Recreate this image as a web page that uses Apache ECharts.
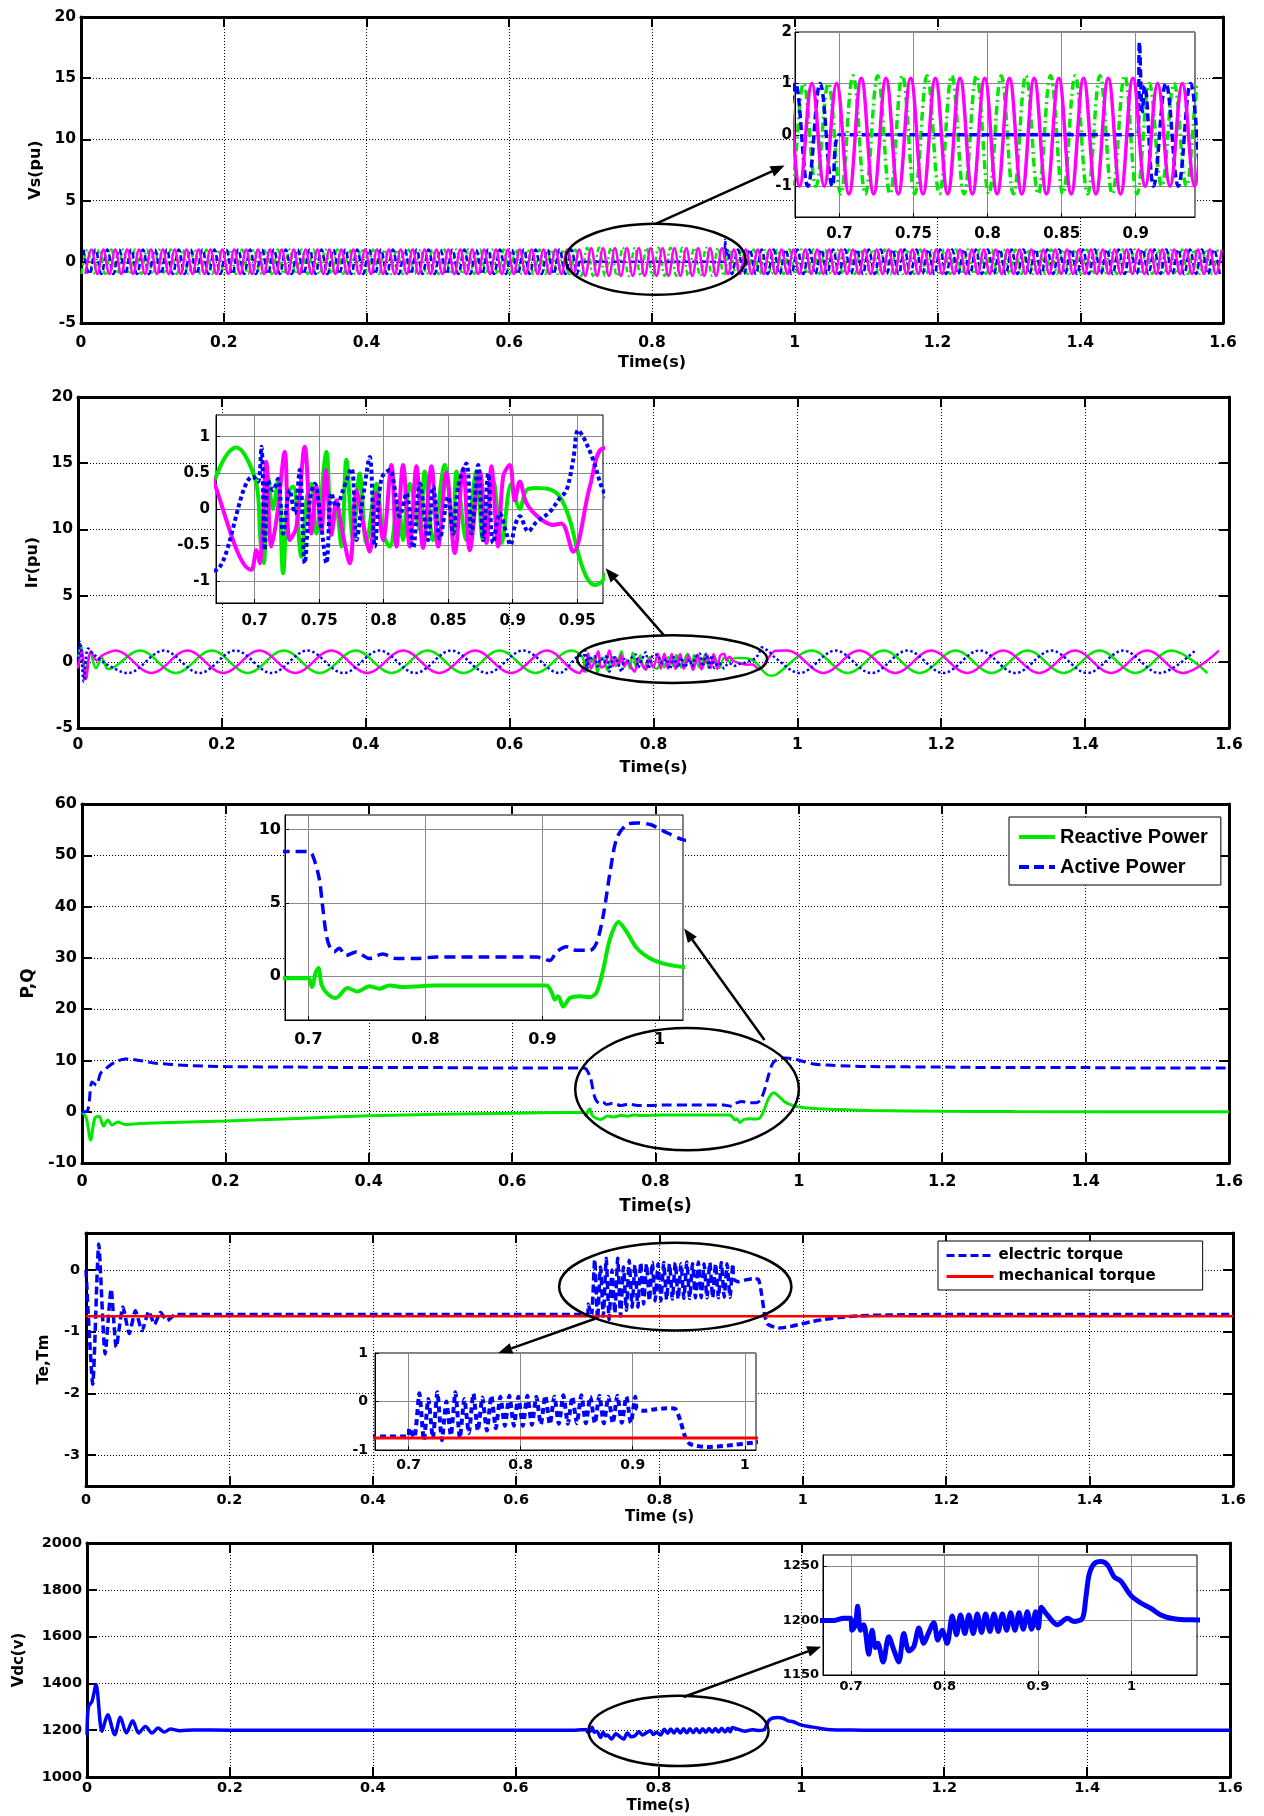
<!DOCTYPE html>
<html>
<head>
<meta charset="utf-8">
<script src="https://cdn.jsdelivr.net/npm/echarts@6.0.0/dist/echarts.min.js"></script>
<style>html,body{margin:0;padding:0;background:#fff;}#chart{width:1264px;height:1816px;}</style>
</head>
<body>
<div id="chart"></div>
<script>
// ======================= DATA =======================
// ---- tick labels of the zoom insets ----
const vsInsetXTicks = [0.7, 0.75, 0.8, 0.85, 0.9];
const vsInsetYTicks = [-1, 0, 1, 2];
const irInsetXTicks = [0.7, 0.75, 0.8, 0.85, 0.9, 0.95];
const irInsetYTicks = [-1, -0.5, 0, 0.5, 1];
const pqInsetXTicks = [0.7, 0.8, 0.9, 1];
const pqInsetYTicks = [0, 5, 10];
const teMainYTicks = [-3, -2, -1, 0];
const teInsetXTicks = [0.7, 0.8, 0.9, 1];
const teInsetYTicks = [-1, 0, 1];
const vdcInsetXTicks = [0.7, 0.8, 0.9, 1];
const vdcInsetYTicks = [1150, 1200, 1250];

// ---- Stator voltage Vs (pu): 3 phases, period and first peak ----
const vsPeriod = 0.01667;
const vsGreenFirstPeak = 0.0090;
const vsMagentaFirstPeak = 0.0146;
const vsBluePeakRef = 0.0035;
// amplitude segments: [tStart, tEnd, peak value, trough value]
const vsGreenSegs = [[0, 0.700, 1.0, -1.0], [0.700, 0.905, 1.15, -1.15], [0.905, 1.6, 1.0, -1.0]];
const vsMagentaSegs = [[0, 0.700, 1.0, -1.0], [0.700, 0.905, 1.1, -1.15], [0.905, 1.6, 1.0, -1.0]];
const vsBlueSegsPre = [[0, 0.699, 1.0, -1.0]];
const vsBlueFault = [[0.700, 0], [0.9015, 0], [0.9025, 1.8], [0.9045, 0.45], [0.906, 0.95]];
const vsBlueSegsPost = [[0.907, 1.6, 1.0, -1.0]];

// ---- Rotor current Ir (pu) ----
const irPeriod = 0.1;
const irPreFirstPeak = { green: 0.086, magenta: 0.052, blue: 0.019 };
const irPostFirstPeak = { green: 0.020, magenta: 0.086, blue: 0.053 };
const irPreSegs = [[0.05, 0.700, 0.85, -0.85]];
const irPostSegs = [[0.975, 1.6, 0.85, -0.85]];
const irGreenStart = [[0, 0.3], [0.004, 1.2], [0.010, -1.0], [0.017, 0.7], [0.025, -0.5], [0.033, 0.3], [0.042, -0.55]];
const irMagentaStart = [[0, -0.5], [0.005, 0.9], [0.011, -1.3], [0.018, 0.8], [0.026, 0.1], [0.034, 0.5], [0.042, 0.7]];
const irBlueStart = [[0, 0.2], [0.003, 1.5], [0.008, -1.5], [0.014, 1.0], [0.021, 0.6], [0.030, 0.2], [0.040, -0.2]];
const irGreenFault = [[0.7013,0.35],[0.7044,-0.43],[0.707,-0.75],[0.7103,0.45],[0.7142,0.0],[0.7181,0.4],[0.722,-0.89],[0.7259,0.22],[0.7297,0.31],[0.7362,-0.66],[0.7401,0.12],[0.7439,0.35],[0.7478,-0.34],[0.7556,0.79],[0.7595,-0.34],[0.7633,0.0],[0.7672,-0.52],[0.7711,0.68],[0.7763,-0.43],[0.7814,0.49],[0.7866,-0.47],[0.7944,0.35],[0.7995,-0.34],[0.8047,-0.52],[0.8112,0.12],[0.815,-0.43],[0.8202,0.35],[0.828,-0.29],[0.8318,0.52],[0.8383,-0.43],[0.8473,0.61],[0.8538,-0.38],[0.8564,0.52],[0.8641,-0.43],[0.8719,0.52],[0.8771,-0.43],[0.8848,0.40],[0.8913,-0.47],[0.899,0.35],[0.9055,0.0],[0.9107,0.26],[0.9184,0.29],[0.9288,0.27],[0.9365,0.17],[0.9443,-0.15],[0.9507,-0.61],[0.9572,-0.94],[0.9637,-1.05],[0.9701,-0.98]];
const irMagentaFault = [[0.6974,-0.84],[0.7013,-0.57],[0.7039,-0.75],[0.709,0.65],[0.7129,-0.52],[0.7173,-0.1],[0.7233,0.79],[0.7271,-0.43],[0.7323,-0.25],[0.7388,0.86],[0.7439,-0.34],[0.7478,0.31],[0.7517,-0.31],[0.7551,0.54],[0.7595,-0.36],[0.7633,0.12],[0.7672,-0.24],[0.7737,-0.75],[0.7788,0.26],[0.784,-0.2],[0.7892,-0.59],[0.7944,0.22],[0.7995,-0.43],[0.806,0.61],[0.8099,-0.52],[0.815,0.61],[0.8202,-0.52],[0.8254,0.59],[0.8305,-0.54],[0.837,0.59],[0.8422,-0.52],[0.8486,0.5],[0.8551,-0.61],[0.8616,0.56],[0.8667,-0.57],[0.8745,0.52],[0.8797,-0.47],[0.8835,0.59],[0.8887,-0.52],[0.8926,0.45],[0.8978,0.61],[0.9016,0.12],[0.9055,0.38],[0.9107,0.08],[0.921,-0.13],[0.9314,-0.22],[0.9378,-0.2],[0.9469,-0.59],[0.9598,0.31],[0.9701,0.84]];
const irBlueFault = [[0.6987,0.45],[0.7026,0.38],[0.7052,0.86],[0.7078,-0.57],[0.7103,0.4],[0.7142,0.26],[0.7181,0.42],[0.722,-0.34],[0.7271,0.26],[0.731,-0.06],[0.7349,0.54],[0.7388,-0.75],[0.7427,0.12],[0.7465,0.35],[0.7517,-0.25],[0.7556,-0.75],[0.7595,0.22],[0.7633,0.03],[0.7685,0.26],[0.775,0.56],[0.7788,-0.43],[0.784,0.17],[0.7892,0.72],[0.7931,-0.52],[0.7982,0.42],[0.8047,0.54],[0.8124,-0.1],[0.8176,0.22],[0.8228,-0.54],[0.828,0.35],[0.8344,-0.43],[0.8383,0.31],[0.8435,-0.41],[0.8499,0.17],[0.8538,-0.34],[0.8577,0.31],[0.8641,0.63],[0.868,-0.34],[0.8732,0.61],[0.8771,-0.43],[0.881,0.49],[0.8848,-0.47],[0.89,-0.06],[0.8952,-0.34],[0.8983,-0.5],[0.9016,-0.24],[0.9055,-0.1],[0.912,-0.31],[0.9184,-0.18],[0.9288,-0.04],[0.9365,0.15],[0.9417,0.26],[0.9469,0.68],[0.9507,1.09],[0.9546,1.0],[0.9624,0.68],[0.9701,0.26]];

// ---- Active / reactive power ----
const activePower = [[0,0],[0.008,0.3],[0.014,5.8],[0.02,5.2],[0.026,7.5],[0.035,8.6],[0.045,9.6],[0.06,10.3],[0.08,10.0],[0.1,9.5],[0.15,9.0],[0.2,8.8],[0.3,8.7],[0.4,8.6],[0.5,8.6],[0.6,8.5],[0.7,8.5],[0.7034,8.3],[0.7091,6.7],[0.712,4.85],[0.7149,3.0],[0.7177,2.1],[0.722,1.65],[0.7263,1.9],[0.732,1.4],[0.7406,1.65],[0.752,1.2],[0.7634,1.5],[0.7749,1.2],[0.792,1.2],[0.8091,1.3],[0.85,1.3],[0.8949,1.3],[0.9063,1.07],[0.912,1.65],[0.9206,2.0],[0.9291,1.76],[0.9406,1.76],[0.9463,2.3],[0.952,4.2],[0.9577,7.1],[0.9634,9.4],[0.972,10.35],[0.9806,10.45],[0.992,10.35],[1.0034,9.9],[1.0206,9.3],[1.04,9.1],[1.07,8.9],[1.1,8.8],[1.2,8.7],[1.3,8.6],[1.4,8.6],[1.5,8.5],[1.6,8.5]];
const reactivePower = [[0,0],[0.006,-1.2],[0.012,-5.5],[0.018,-1.2],[0.024,-0.9],[0.03,-2.8],[0.036,-1.6],[0.042,-2.6],[0.05,-2.0],[0.06,-2.5],[0.08,-2.3],[0.1,-2.2],[0.2,-1.8],[0.3,-1.3],[0.4,-0.8],[0.5,-0.5],[0.6,-0.3],[0.68,-0.15],[0.7,-0.14],[0.7029,-0.75],[0.7063,0.27],[0.7086,0.55],[0.7114,-0.64],[0.7163,-1.2],[0.7234,-1.5],[0.7334,-0.82],[0.742,-1.05],[0.752,-0.69],[0.7606,-0.87],[0.7691,-0.64],[0.7806,-0.75],[0.7949,-0.69],[0.8091,-0.64],[0.9034,-0.64],[0.9077,-1.1],[0.9106,-1.6],[0.9134,-1.37],[0.9177,-2.08],[0.9234,-1.5],[0.932,-1.37],[0.9406,-1.44],[0.9463,-1.1],[0.952,0.5],[0.9577,2.56],[0.9649,3.7],[0.972,3.0],[0.9806,1.9],[0.992,1.2],[1.0034,0.85],[1.0206,0.62],[1.05,0.45],[1.1,0.25],[1.2,0.1],[1.3,0.02],[1.6,0]];

// ---- Torques ----
const teStart = [[0,0],[0.0094,-1.85],[0.0178,0.42],[0.0267,-1.36],[0.0351,-0.31],[0.0422,-1.25],[0.0515,-0.6],[0.0604,-1.03],[0.0689,-0.66],[0.0782,-0.98],[0.0876,-0.67],[0.0955,-0.88],[0.104,-0.69],[0.113,-0.82],[0.125,-0.72],[0.2,-0.72],[0.4,-0.72],[0.6,-0.72],[0.7,-0.72],[0.7006,-0.55],[0.7051,-0.74]];
const teFaultFirstPeak = 0.7096;
const teFaultStep = 0.00803;
const teFaultPeaks = [0.17,0.05,0.19,0.0,0.19,0.05,0.16,0.08,0.12,0.1,0.12,0.1,0.12,0.1,0.12,0.1,0.13,0.1,0.13,0.1,0.12,0.1,0.12,0.1,0.1];
const teFaultTroughs = [-0.8,-0.75,-0.8,-0.7,-0.75,-0.65,-0.6,-0.6,-0.55,-0.5,-0.5,-0.5,-0.48,-0.47,-0.47,-0.46,-0.46,-0.45,-0.45,-0.45,-0.45,-0.45,-0.44,-0.44];
const teEnd = [[0.9036,-0.15],[0.91,-0.19],[0.92,-0.16],[0.93,-0.14],[0.9379,-0.15],[0.9424,-0.39],[0.9469,-0.74],[0.9513,-0.88],[0.9663,-0.94],[0.9842,-0.91],[1.0104,-0.84],[1.03,-0.8],[1.05,-0.77],[1.08,-0.74],[1.12,-0.73],[1.2,-0.72],[1.6,-0.72]];
const mechanicalTorque = [[0,-0.75],[1.6,-0.75]];

// ---- DC link voltage ----
const vdc = [[0,1180],[0.002,1300],[0.007,1323],[0.0126,1395],[0.021,1195],[0.029,1266],[0.0388,1181],[0.0467,1255],[0.0551,1188],[0.064,1240],[0.0724,1188],[0.0818,1216],[0.0911,1188],[0.0995,1209],[0.108,1192],[0.117,1205],[0.13,1198],[0.15,1201],[0.2,1200],[0.4,1200],[0.6,1200],[0.6814,1200],[0.6921,1202],[0.6993,1202],[0.7011,1191],[0.7046,1196],[0.7071,1213],[0.71,1191],[0.7136,1196],[0.7189,1169],[0.7225,1191],[0.7261,1175],[0.7286,1179],[0.7343,1162],[0.7403,1185],[0.7457,1173],[0.7511,1162],[0.7564,1188],[0.7618,1172],[0.7671,1176],[0.7725,1193],[0.7778,1179],[0.7821,1187],[0.7885,1198],[0.7928,1182],[0.7975,1191],[0.8028,1179],[0.8082,1204],[0.8128,1187],[0.8171,1205],[0.8217,1188],[0.826,1205],[0.8307,1188],[0.835,1206],[0.8396,1189],[0.8439,1206],[0.8486,1190],[0.8529,1206],[0.8575,1190],[0.8618,1206],[0.8664,1191],[0.8707,1207],[0.8753,1191],[0.8796,1207],[0.8842,1192],[0.8885,1208],[0.8931,1192],[0.8974,1208],[0.9003,1193],[0.9035,1212],[0.9099,1205],[0.9207,1196],[0.9314,1202],[0.9385,1199],[0.9475,1202],[0.951,1220],[0.9546,1242],[0.96,1252],[0.9671,1254],[0.9742,1251],[0.9814,1240],[0.9885,1236],[0.9992,1223],[1.0099,1216],[1.0207,1211],[1.0314,1205],[1.0421,1202],[1.0564,1200.6],[1.0707,1200.5],[1.1,1200],[1.3,1200],[1.6,1200]];

// ======================= helpers =======================
function sineExtrema(firstPeak, period, segs) {
  const half = period / 2, out = [];
  segs.forEach(function (s) {
    const a = s[0], b = s[1], hi = s[2], lo = s[3];
    let k = Math.ceil((a - firstPeak) / half - 1e-9);
    let t = firstPeak + k * half;
    while (t < b) {
      out.push([Math.round(t * 1e5) / 1e5, ((k % 2) + 2) % 2 === 0 ? hi : lo]);
      k++; t = firstPeak + k * half;
    }
  });
  return out;
}
function alternating(t0, step, peaks, troughs) {
  const out = [];
  for (let i = 0; i < peaks.length; i++) {
    out.push([t0 + i * step, peaks[i]]);
    if (i < troughs.length) out.push([t0 + (i + 0.5) * step, troughs[i]]);
  }
  return out;
}

const vsGreen = sineExtrema(vsGreenFirstPeak, vsPeriod, vsGreenSegs);
const vsMagenta = sineExtrema(vsMagentaFirstPeak, vsPeriod, vsMagentaSegs);
const vsBlue = sineExtrema(vsBluePeakRef, vsPeriod, vsBlueSegsPre).concat(vsBlueFault, sineExtrema(vsBluePeakRef, vsPeriod, vsBlueSegsPost));

const irGreen = irGreenStart.concat(sineExtrema(irPreFirstPeak.green, irPeriod, irPreSegs), irGreenFault, sineExtrema(irPostFirstPeak.green, irPeriod, irPostSegs));
const irMagenta = irMagentaStart.concat(sineExtrema(irPreFirstPeak.magenta, irPeriod, irPreSegs), irMagentaFault, sineExtrema(irPostFirstPeak.magenta, irPeriod, irPostSegs));
const irBlue = irBlueStart.concat(sineExtrema(irPreFirstPeak.blue, irPeriod, irPreSegs), irBlueFault, sineExtrema(irPostFirstPeak.blue, irPeriod, irPostSegs));

const electricTorque = teStart.concat(alternating(teFaultFirstPeak, teFaultStep, teFaultPeaks, teFaultTroughs), teEnd);

// ======================= layout & styles =======================
const FONT = 'DejaVu Sans';
const GREEN = '#00e800', BLUE = '#0000ff', MAG = '#ff00ff', RED = '#ff0000';
const fmt = function (v) { return String(+(+v).toFixed(4)); };

const grids = [], xAxes = [], yAxes = [], series = [];

function txt(fs) { return { color: '#000', fontFamily: FONT, fontWeight: 'bold', fontSize: fs }; }

function mainPanel(c) {
  const gi = grids.length;
  grids.push({ left: c.box[0], top: c.box[1], width: c.box[2], height: c.box[3], show: false, outerBoundsMode: 'none', containLabel: false });
  const line = { show: true, onZero: false, lineStyle: { color: '#000', width: 3 } };
  const tick = { show: true, inside: true, length: 10, lineStyle: { color: '#000', width: 2 } };
  const split = { show: true, lineStyle: { color: '#000', width: 1, type: [1, 2] } };
  const xi = xAxes.length;
  xAxes.push({ type: 'value', gridIndex: gi, min: 0, max: 1.6, interval: 0.2, position: 'bottom',
    axisLine: line, axisTick: tick, splitLine: split,
    axisLabel: Object.assign(txt(c.fs), { margin: c.xm, formatter: fmt, showMinLabel: true, showMaxLabel: true }),
    name: c.xName, nameLocation: 'middle', nameGap: c.xng, nameTextStyle: txt(c.nfs) });
  xAxes.push({ type: 'value', gridIndex: gi, min: 0, max: 1.6, interval: 0.2, position: 'top',
    axisLine: line, axisTick: tick, axisLabel: { show: false }, splitLine: { show: false } });
  const yi = yAxes.length;
  const base = { type: 'value', gridIndex: gi, min: c.y.min, max: c.y.max };
  if (c.y.interval) base.interval = c.y.interval;
  const cv = c.y.ticks ? { customValues: c.y.ticks } : {};
  yAxes.push(Object.assign({}, base, { position: 'left', axisLine: line,
    axisTick: Object.assign({}, tick, cv), splitLine: split,
    axisLabel: Object.assign(txt(c.fs), { margin: c.ym, formatter: fmt, showMinLabel: true, showMaxLabel: true }, cv),
    name: c.yName, nameLocation: 'middle', nameGap: c.yng, nameTextStyle: txt(c.nfs) }));
  yAxes.push(Object.assign({}, base, { position: 'right', axisLine: line,
    axisTick: Object.assign({}, tick, cv), axisLabel: { show: false }, splitLine: { show: false } }));
  return { gi: gi, xi: xi, yi: yi, inset: false };
}

function insetPanel(c) {
  const gi = grids.length;
  grids.push({ left: c.box[0], top: c.box[1], width: c.box[2], height: c.box[3], show: true, backgroundColor: '#fff',
    borderColor: '#000', borderWidth: 1, z: 10, outerBoundsMode: 'none', containLabel: false });
  const line = { show: true, onZero: false, lineStyle: { color: '#000', width: 1 } };
  const split = { show: true, lineStyle: { color: '#8a8a8a', width: 1, type: 'solid' } };
  const xi = xAxes.length;
  xAxes.push({ type: 'value', gridIndex: gi, min: c.x[0], max: c.x[1], position: 'bottom', z: 11,
    axisLine: line, axisTick: { show: true, inside: true, length: 4, customValues: c.xt, lineStyle: { color: '#000' } },
    axisLabel: Object.assign(txt(c.fs), { margin: c.xm, formatter: fmt, customValues: c.xt }), splitLine: split });
  const yi = yAxes.length;
  yAxes.push({ type: 'value', gridIndex: gi, min: c.y[0], max: c.y[1], position: 'left', z: 11,
    axisLine: line, axisTick: { show: true, inside: true, length: 4, customValues: c.yt, lineStyle: { color: '#000' } },
    axisLabel: Object.assign(txt(c.fs), { margin: c.ym, formatter: fmt, customValues: c.yt }), splitLine: split });
  return { gi: gi, xi: xi, yi: yi, inset: true };
}

function addLine(ax, name, data, ls, smooth) {
  series.push({ type: 'line', name: name, xAxisIndex: ax.xi, yAxisIndex: ax.yi, data: data, symbol: 'none', showSymbol: false,
    animation: false, silent: true, color: ls.color, lineStyle: ls, smooth: smooth || false, z: ax.inset ? 12 : 2, clip: true });
}

const P = [
  mainPanel({ box: [81, 17, 1142, 306], y: { min: -5, max: 20, interval: 5 }, fs: 15.5, nfs: 16, xm: 12, ym: 5, xName: 'Time(s)', xng: 32, yName: 'Vs(pu)', yng: 34 }),
  mainPanel({ box: [78, 397, 1151, 331], y: { min: -5, max: 20, interval: 5 }, fs: 15.5, nfs: 16, xm: 9, ym: 5, xName: 'Time(s)', xng: 32, yName: 'Ir(pu)', yng: 35 }),
  mainPanel({ box: [82, 804, 1147, 359], y: { min: -10, max: 60, interval: 10 }, fs: 16, nfs: 17, xm: 11, ym: 5, xName: 'Time(s)', xng: 35, yName: 'P,Q', yng: 39 }),
  mainPanel({ box: [86, 1233, 1147, 253], y: { min: -3.5, max: 0.6, ticks: teMainYTicks }, fs: 14.5, nfs: 15, xm: 7, ym: 6, xName: 'Time (s)', xng: 24, yName: 'Te,Tm', yng: 34 }),
  mainPanel({ box: [87, 1543, 1143, 234], y: { min: 1000, max: 2000, interval: 200 }, fs: 14.5, nfs: 15, xm: 4, ym: 5, xName: 'Time(s)', xng: 22, yName: 'Vdc(v)', yng: 60 })
];
const I = [
  insetPanel({ box: [795, 32, 400, 185], x: [0.67, 0.94], y: [-1.6, 2], xt: vsInsetXTicks, yt: vsInsetYTicks, fs: 15, xm: 10, ym: 3 }),
  insetPanel({ box: [216, 415, 387, 188], x: [0.67, 0.97], y: [-1.3, 1.3], xt: irInsetXTicks, yt: irInsetYTicks, fs: 15, xm: 11, ym: 6 }),
  insetPanel({ box: [285, 815, 398, 205], x: [0.68, 1.02], y: [-3, 11], xt: pqInsetXTicks, yt: pqInsetYTicks, fs: 16, xm: 12, ym: 4 }),
  insetPanel({ box: [375, 1353, 381, 97], x: [0.67, 1.01], y: [-1, 1], xt: teInsetXTicks, yt: teInsetYTicks, fs: 14, xm: 8, ym: 7 }),
  insetPanel({ box: [823, 1555, 374, 120], x: [0.67, 1.07], y: [1150, 1260], xt: vdcInsetXTicks, yt: vdcInsetYTicks, fs: 13, xm: 5, ym: 4 })
];

// Vs
addLine(P[0], 'Vs a', vsGreen, { color: GREEN, width: 2.5, type: [6, 3, 2, 3] }, 0.4);
addLine(P[0], 'Vs b', vsBlue, { color: BLUE, width: 2.5, type: [6, 3] }, 0.4);
addLine(P[0], 'Vs c', vsMagenta, { color: MAG, width: 2.5 }, 0.4);
addLine(I[0], 'Vs a', vsGreen, { color: GREEN, width: 3.5, type: [9, 4, 2, 4] }, 0.4);
addLine(I[0], 'Vs b', vsBlue, { color: BLUE, width: 3.5, type: [8, 4] }, 0.4);
addLine(I[0], 'Vs c', vsMagenta, { color: MAG, width: 3.5 }, 0.4);
// Ir
addLine(P[1], 'Ir a', irGreen, { color: GREEN, width: 2.5 }, 0.35);
addLine(P[1], 'Ir c', irMagenta, { color: MAG, width: 2.5 }, 0.35);
addLine(P[1], 'Ir b', irBlue, { color: BLUE, width: 2.5, type: [2.5, 2.5] }, 0.35);
addLine(I[1], 'Ir a', irGreen, { color: GREEN, width: 4 }, 0.35);
addLine(I[1], 'Ir c', irMagenta, { color: MAG, width: 4 }, 0.35);
addLine(I[1], 'Ir b', irBlue, { color: BLUE, width: 4, type: [4, 3] }, 0.35);
// P,Q
addLine(P[2], 'Reactive Power', reactivePower, { color: GREEN, width: 3 }, 0.3);
addLine(P[2], 'Active Power', activePower, { color: BLUE, width: 3, type: [10, 5] }, 0.3);
addLine(I[2], 'Reactive Power', reactivePower, { color: GREEN, width: 4 }, 0.3);
addLine(I[2], 'Active Power', activePower, { color: BLUE, width: 3.5, type: [11, 6] }, 0.3);
// Torques
addLine(P[3], 'electric torque', electricTorque, { color: BLUE, width: 3.5, type: [8, 4] }, 0.2);
addLine(P[3], 'mechanical torque', mechanicalTorque, { color: RED, width: 2.5 });
addLine(I[3], 'electric torque', electricTorque, { color: BLUE, width: 4, type: [6, 4] }, 0.2);
addLine(I[3], 'mechanical torque', mechanicalTorque, { color: RED, width: 3 });
// Vdc
addLine(P[4], 'Vdc', vdc, { color: BLUE, width: 3.5 }, 0.3);
addLine(I[4], 'Vdc', vdc, { color: BLUE, width: 5 }, 0.3);

const legendCommon = { orient: 'vertical', borderColor: '#000', borderWidth: 1, backgroundColor: '#fff', selectedMode: false, z: 20,
  itemStyle: { opacity: 0, borderWidth: 0 } };
const option = {
  backgroundColor: '#fff',
  animation: false,
  grid: grids, xAxis: xAxes, yAxis: yAxes, series: series,
  legend: [
    Object.assign({}, legendCommon, { data: ['Reactive Power', 'Active Power'], left: 1009, top: 817, itemWidth: 36, itemHeight: 20,
      itemGap: 10, padding: [10, 13, 8, 8], lineStyle: { width: 4 },
      textStyle: { color: '#000', fontFamily: 'Liberation Sans', fontWeight: 'bold', fontSize: 20 } }),
    Object.assign({}, legendCommon, { data: ['electric torque', 'mechanical torque'], left: 938, top: 1241, itemWidth: 47, itemHeight: 14,
      itemGap: 6, padding: [7, 47, 6, 7], lineStyle: { width: 3 },
      textStyle: { color: '#000', fontFamily: FONT, fontWeight: 'bold', fontSize: 15 } })
  ]
};

const chart = echarts.init(document.getElementById('chart'));
chart.setOption(option);

// zoom annotations: ellipse on main panel (data units), arrow to the inset
const annotations = [
  { panel: 0, inset: 0, center: [0.805, 0.2], radius: [0.126, 2.9], from: [0.805, 3.1], to: [0.663, -0.6] },
  { panel: 1, inset: 1, center: [0.826, 0.2], radius: [0.132, 1.8], from: [0.8146, 2.0], to: [0.972, -0.82] },
  { panel: 2, inset: 2, center: [0.844, 4.4], radius: [0.156, 11.9], from: [0.952, 14.0], to: [1.021, 3.25] },
  { panel: 3, inset: 3, center: [0.822, -0.27], radius: [0.162, 0.71], from: [0.71, -0.79], to: [0.78, 1.0] },
  { panel: 4, inset: 4, center: [0.828, 1197], radius: [0.126, 150], from: [0.835, 1342], to: [0.668, 1176] }
];
const gfx = [];
annotations.forEach(function (a) {
  const pm = P[a.panel], pi = I[a.inset];
  const fm = { xAxisIndex: pm.xi, yAxisIndex: pm.yi }, fi = { xAxisIndex: pi.xi, yAxisIndex: pi.yi };
  const c = chart.convertToPixel(fm, a.center);
  const e = chart.convertToPixel(fm, [a.center[0] + a.radius[0], a.center[1] + a.radius[1]]);
  gfx.push({ type: 'ellipse', silent: true, z: 100,
    shape: { cx: c[0], cy: c[1], rx: Math.abs(e[0] - c[0]), ry: Math.abs(e[1] - c[1]) },
    style: { fill: 'none', stroke: '#000', lineWidth: 2.5 } });
  const f = chart.convertToPixel(fm, a.from);
  const t = chart.convertToPixel(fi, a.to);
  const dx = t[0] - f[0], dy = t[1] - f[1], L = Math.hypot(dx, dy), ux = dx / L, uy = dy / L;
  const hl = 14, hw = 5.5, bx = t[0] - ux * hl, by = t[1] - uy * hl;
  gfx.push({ type: 'line', silent: true, z: 100, shape: { x1: f[0], y1: f[1], x2: bx, y2: by }, style: { stroke: '#000', lineWidth: 2.5 } });
  gfx.push({ type: 'polygon', silent: true, z: 100,
    shape: { points: [[t[0], t[1]], [bx - uy * hw, by + ux * hw], [bx + uy * hw, by - ux * hw]] }, style: { fill: '#000' } });
});
chart.setOption({ graphic: gfx });
</script>
</body>
</html>
